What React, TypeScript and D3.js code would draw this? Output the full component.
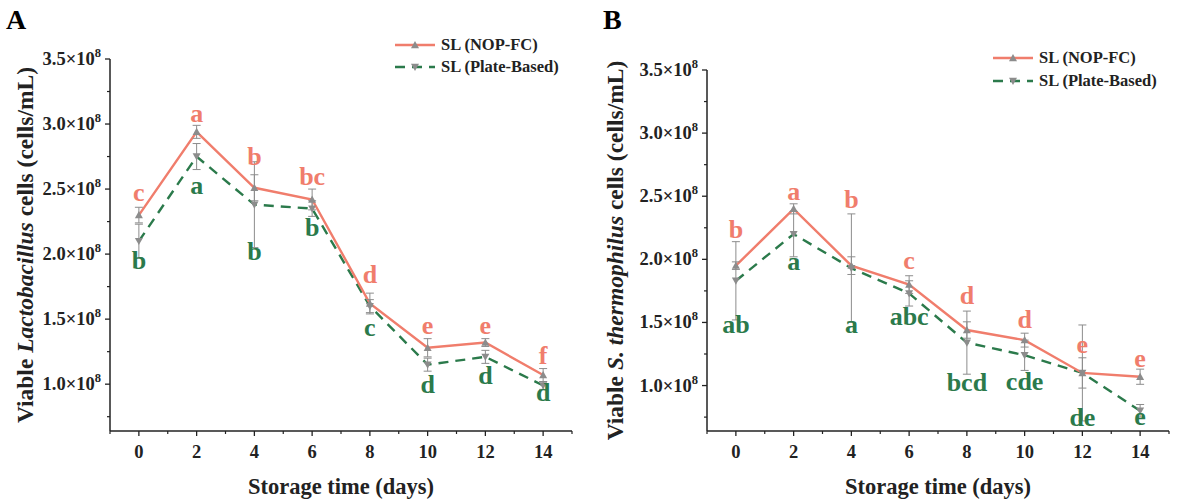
import * as d3 from 'd3';

// values in units of 1e8 cells/mL
const days = [0, 2, 4, 6, 8, 10, 12, 14];
const yTicks = [1.0, 1.5, 2.0, 2.5, 3.0, 3.5];
const yMinor = [0.75, 1.25, 1.75, 2.25, 2.75, 3.25];
const xMinor = [-1, 1, 3, 5, 7, 9, 11, 13, 15];

// panel A - Lactobacillus
const lacNop = [2.30, 2.94, 2.51, 2.42, 1.62, 1.28, 1.32, 1.07];
const lacNopErr = [0.06, 0.05, 0.10, 0.08, 0.08, 0.07, 0.03, 0.05];
const lacPlate = [2.10, 2.75, 2.38, 2.35, 1.60, 1.15, 1.21, 0.99];
const lacPlateErr = [0.13, 0.10, 0.33, 0.06, 0.05, 0.05, 0.05, 0.03];
const lacNopLetters = ['c', 'a', 'b', 'bc', 'd', 'e', 'e', 'f'];
const lacNopLetterAt = [2.47, 3.08, 2.75, 2.59, 1.84, 1.45, 1.45, 1.22];
const lacPlateLetters = ['b', 'a', 'b', 'b', 'c', 'd', 'd', 'd'];
const lacPlateLetterAt = [1.95, 2.52, 2.02, 2.20, 1.43, 0.99, 1.06, 0.93];

// panel B - S. thermophilus
const stNop = [1.95, 2.40, 1.95, 1.80, 1.44, 1.36, 1.10, 1.07];
const stNopErr = [0.03, 0.04, 0.07, 0.07, 0.065, 0.055, 0.12, 0.06];
const stPlate = [1.83, 2.20, 1.93, 1.73, 1.34, 1.24, 1.10, 0.80];
const stPlateErr = [0.31, 0.18, 0.43, 0.10, 0.25, 0.12, 0.38, 0.05];
const stNopLetters = ['b', 'a', 'b', 'c', 'd', 'd', 'e', 'e'];
const stNopLetterAt = [2.23, 2.53, 2.47, 1.99, 1.71, 1.52, 1.32, 1.21];
const stPlateLetters = ['ab', 'a', 'a', 'abc', 'bcd', 'cde', 'de', 'e'];
const stPlateLetterAt = [1.48, 1.98, 1.48, 1.54, 1.02, 1.03, 0.74, 0.75];

const seriesNames = ['SL (NOP-FC)', 'SL (Plate-Based)'];

const RED = '#f07d6c';
const GREEN = '#2b7a4b';
const GREY = '#8c8c8c';
const FONT = '"Liberation Serif", "Times New Roman", serif';

type PanelProps = {
  tag: string;
  organism: string;
  left: number;
  right: number;
  top: number;
  bottom: number;
  titleX: number;
  legendX: number;
  legendY: number[];
  nop: number[];
  nopErr: number[];
  plate: number[];
  plateErr: number[];
  nopLetters: string[];
  nopLetterAt: number[];
  plateLetters: string[];
  plateLetterAt: number[];
};

const triangle = (x: number, y: number, up: boolean) => {
  const s = 4;
  return up
    ? `M${x},${y - s}L${x + s},${y + s * 0.8}L${x - s},${y + s * 0.8}Z`
    : `M${x},${y + s}L${x + s},${y - s * 0.8}L${x - s},${y - s * 0.8}Z`;
};

const Panel = (p: PanelProps) => {
  const x = d3.scaleLinear().domain([-1, 15]).range([p.left, p.right]);
  const y = d3.scaleLinear().domain([0.64, 3.5]).range([p.bottom, p.top]);
  const line = d3
    .line<number>()
    .x((_, i) => x(days[i]))
    .y((d) => y(d));

  const errBars = (vals: number[], errs: number[], key: string) =>
    vals.map((v, i) => {
      const cx = x(days[i]);
      const y1 = y(v + errs[i]);
      const y2 = y(v - errs[i]);
      return (
        <g key={key + i} stroke={GREY} strokeWidth={1}>
          <line x1={cx} x2={cx} y1={y1} y2={y2} />
          <line x1={cx - 4} x2={cx + 4} y1={y1} y2={y1} />
          <line x1={cx - 4} x2={cx + 4} y1={y2} y2={y2} />
        </g>
      );
    });

  return (
    <g fontFamily={FONT} fontWeight="bold">
      <text x={p.left - 104} y={29} fontSize={28}>
        {p.tag}
      </text>

      {/* axes */}
      <line x1={p.left} x2={p.left} y1={p.top} y2={p.bottom} stroke="#222" strokeWidth={1.5} />
      <line x1={p.left} x2={p.right} y1={p.bottom} y2={p.bottom} stroke="#222" strokeWidth={1.5} />
      {yTicks.map((t) => (
        <g key={'yt' + t}>
          <line x1={p.left - 5} x2={p.left} y1={y(t)} y2={y(t)} stroke="#222" strokeWidth={1.3} />
          <text x={p.left - 9} y={y(t) + 6} textAnchor="end" fontSize={18.5} fill="#222">
            {t.toFixed(1)}×10
            <tspan fontSize={12.5} dy={-8}>8</tspan>
          </text>
        </g>
      ))}
      {yMinor.map((t) => (
        <line key={'ym' + t} x1={p.left - 3} x2={p.left} y1={y(t)} y2={y(t)} stroke="#222" strokeWidth={1.2} />
      ))}
      {days.map((d) => (
        <g key={'xt' + d}>
          <line x1={x(d)} x2={x(d)} y1={p.bottom} y2={p.bottom + 5} stroke="#222" strokeWidth={1.3} />
          <text x={x(d)} y={p.bottom + 27} textAnchor="middle" fontSize={18.5} fill="#222">
            {d}
          </text>
        </g>
      ))}
      {xMinor.map((d) => (
        <line key={'xm' + d} x1={x(d)} x2={x(d)} y1={p.bottom} y2={p.bottom + 3} stroke="#222" strokeWidth={1.2} />
      ))}

      <text x={(p.left + p.right) / 2} y={494} textAnchor="middle" fontSize={22.5} fill="#222">
        Storage time (days)
      </text>
      <text
        transform={`translate(${p.titleX},${(p.top + p.bottom) / 2}) rotate(-90)`}
        textAnchor="middle"
        fontSize={23.5}
        fill="#222"
      >
        Viable <tspan fontStyle="italic">{p.organism}</tspan> cells (cells/mL)
      </text>

      {/* series */}
      <path d={line(p.plate)!} fill="none" stroke={GREEN} strokeWidth={2.4} strokeDasharray="10,7" />
      <path d={line(p.nop)!} fill="none" stroke={RED} strokeWidth={2.4} />
      {errBars(p.plate, p.plateErr, 'pe')}
      {errBars(p.nop, p.nopErr, 'ne')}
      {p.nop.map((v, i) => (
        <path key={'nm' + i} d={triangle(x(days[i]), y(v), true)} fill={GREY} />
      ))}
      {p.plate.map((v, i) => (
        <path key={'pm' + i} d={triangle(x(days[i]), y(v), false)} fill={GREY} />
      ))}

      {/* significance letters */}
      {p.nopLetters.map((l, i) => (
        <text key={'nl' + i} x={x(days[i])} y={y(p.nopLetterAt[i]) + 8} textAnchor="middle" fontSize={26} fill={RED}>
          {l}
        </text>
      ))}
      {p.plateLetters.map((l, i) => (
        <text key={'pl' + i} x={x(days[i])} y={y(p.plateLetterAt[i]) + 8} textAnchor="middle" fontSize={26} fill={GREEN}>
          {l}
        </text>
      ))}

      {/* legend */}
      {seriesNames.map((name, i) => {
        const ly = p.legendY[i];
        const up = i === 0;
        return (
          <g key={'lg' + i}>
            <line
              x1={p.legendX}
              x2={p.legendX + 40}
              y1={ly}
              y2={ly}
              stroke={up ? RED : GREEN}
              strokeWidth={2.4}
              strokeDasharray={up ? undefined : '10,7'}
            />
            <path d={triangle(p.legendX + 20, ly, up)} fill={GREY} />
            <text x={p.legendX + 46} y={ly + 5} fontSize={16.5} fill="#222">
              {name}
            </text>
          </g>
        );
      })}
    </g>
  );
};

export default function App() {
  return (
    <svg
      width={1177}
      height={504}
      style={{ position: 'absolute', left: 0, top: 0, background: '#fff' }}
    >
      <Panel
        tag="A"
        organism="Lactobacillus"
        left={110}
        right={572}
        top={59}
        bottom={431}
        titleX={33}
        legendX={395}
        legendY={[45, 67]}
        nop={lacNop}
        nopErr={lacNopErr}
        plate={lacPlate}
        plateErr={lacPlateErr}
        nopLetters={lacNopLetters}
        nopLetterAt={lacNopLetterAt}
        plateLetters={lacPlateLetters}
        plateLetterAt={lacPlateLetterAt}
      />
      <Panel
        tag="B"
        organism="S. thermophilus"
        left={707}
        right={1169}
        top={70}
        bottom={431}
        titleX={623}
        legendX={993}
        legendY={[58, 81]}
        nop={stNop}
        nopErr={stNopErr}
        plate={stPlate}
        plateErr={stPlateErr}
        nopLetters={stNopLetters}
        nopLetterAt={stNopLetterAt}
        plateLetters={stPlateLetters}
        plateLetterAt={stPlateLetterAt}
      />
    </svg>
  );
}
